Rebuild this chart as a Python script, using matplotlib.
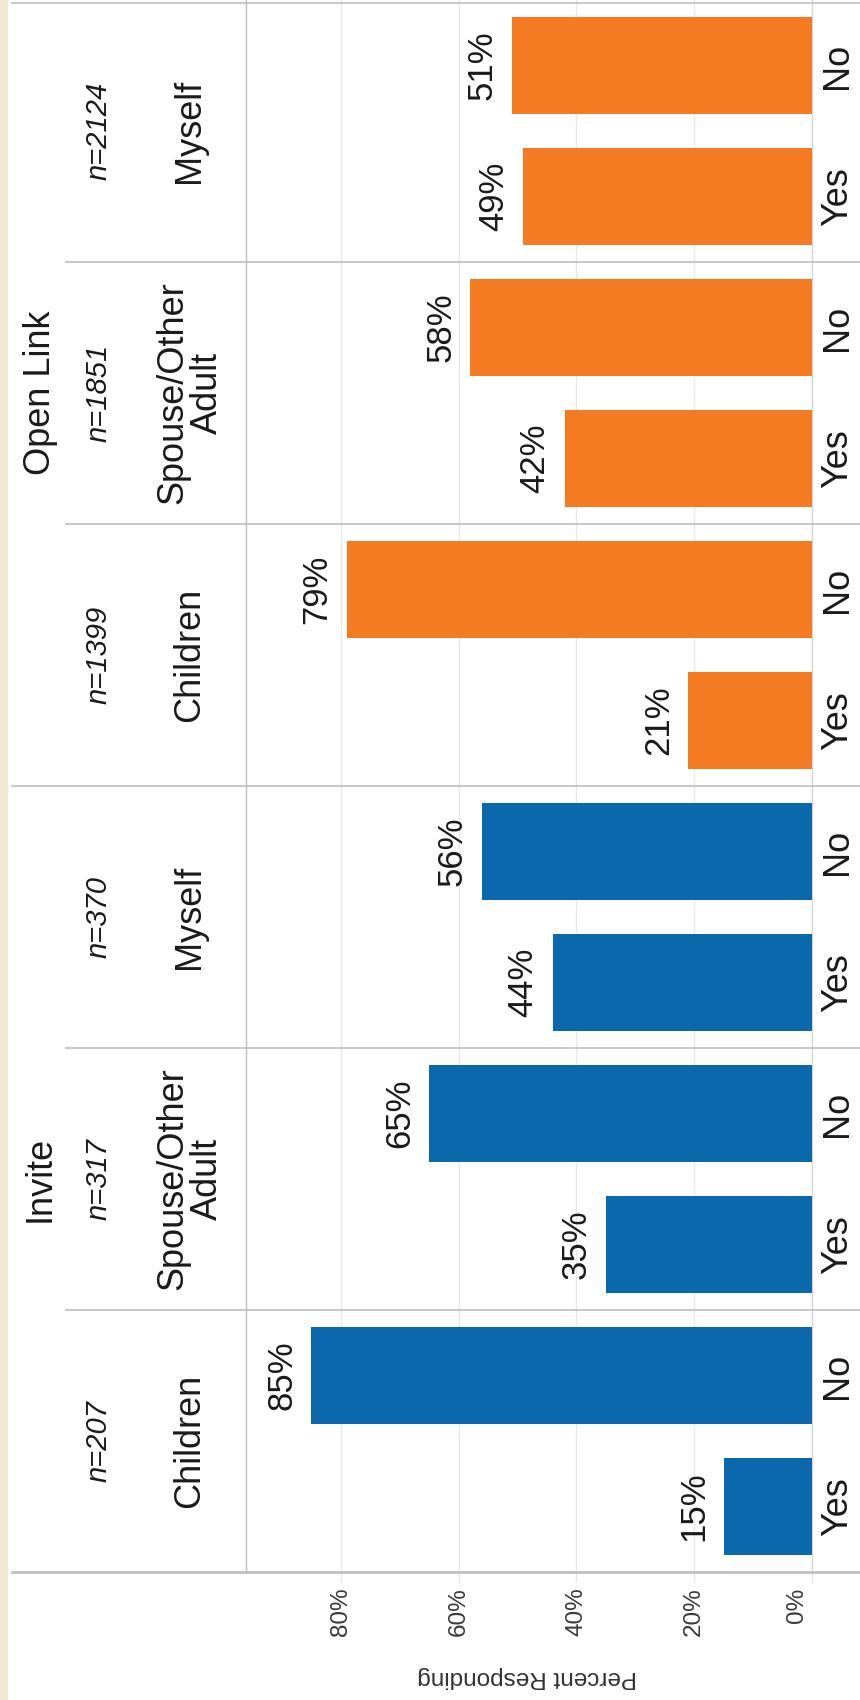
import numpy as np
import matplotlib.pyplot as plt
import matplotlib.transforms as mtransforms
from matplotlib.patches import Rectangle

plt.rcParams['font.family'] = ['Liberation Sans', 'DejaVu Sans']

groups = ['Invite', 'Open Link']
recipients = ['Children', 'Spouse/Other\nAdult', 'Myself']
answers = ['Yes', 'No']
invite_pct = [15, 85, 35, 65, 44, 56]
open_link_pct = [21, 79, 42, 58, 49, 51]
invite_n = [207, 317, 370]
open_link_n = [1399, 1851, 2124]
group_colors = ['#0b68ab', '#f47b21']
ticks = [0, 20, 40, 60, 80]

W, H = 860, 1700
fig = plt.figure(figsize=(W / 100, H / 100), dpi=100, facecolor='white')
ax = fig.add_axes([246 / W, 128 / H, 1 - 246 / W, 1 - 128 / H])

# beige page strip on the left
fig.patches.append(Rectangle((0, 0), 7 / W, 1, transform=fig.transFigure,
                             color='#f3e8d6', zorder=0))

values = invite_pct + open_link_pct
ns = invite_n + open_link_n
cols = [group_colors[0]] * len(invite_pct) + [group_colors[1]] * len(open_link_pct)
ypos = np.arange(len(values))

ax.barh(ypos, values, height=0.74, color=cols, zorder=3)
for y, v in zip(ypos, values):
    ax.annotate(f'{v}%', (v, y), xytext=(-9.5, 0), textcoords='offset points',
                ha='right', va='center', rotation=90, fontsize=25, color='#1a1a1a')
    ax.text(-4.4, y, answers[y % 2], ha='center', va='center', rotation=90,
            fontsize=26, color='#1a1a1a')

ax.set_xlim(96.1, -8.15)
ax.set_ylim(-0.5, len(values) - 0.5)
ax.set_yticks([])
ax.set_xticks(ticks)
ax.set_xticklabels([f'{t}%' for t in ticks], rotation=90, fontsize=17.5, color='#3a3a3a')
ax.tick_params(axis='x', length=7, width=1, color='#e6e6e6', pad=4)
# 0% label sits a little off its line in the original
zero_lbl = ax.get_xticklabels()[0]
zero_lbl.set_transform(zero_lbl.get_transform() +
                       mtransforms.ScaledTranslation(-15 / 100, 0, fig.dpi_scale_trans))
for t in ticks:
    ax.axvline(t, color='#d4d4d4' if t == 0 else '#e8e8e8', lw=1, zorder=1)
for s in ['top', 'right', 'bottom']:
    ax.spines[s].set_visible(False)
ax.spines['left'].set_color('#bdbdbd')
ax.spines['left'].set_linewidth(1)

# header column (left side) in figure x / data y
blend = mtransforms.blended_transform_factory(fig.transFigure, ax.transData)
for p in range(6):
    yc = 2 * p + 0.5
    ax.text(99 / W, yc, f'n={ns[p]}', transform=blend, ha='center', va='center',
            rotation=90, fontsize=21, style='italic', color='#1a1a1a')
    ax.text(190 / W, yc, recipients[p % 3], transform=blend, ha='center', va='center',
            rotation=90, fontsize=26, color='#1a1a1a', multialignment='center',
            linespacing=1.0)
for g, name in enumerate(groups):
    ax.text(40 / W, 6 * g + 2.5, name, transform=blend, ha='center', va='center',
            rotation=90, fontsize=26, color='#1a1a1a')

# pane dividers
for yb in [1.5, 3.5, 7.5, 9.5]:
    ax.plot([66 / W, 1], [yb, yb], transform=blend, color='#c8c8c8', lw=1.4,
            clip_on=False, zorder=2)
for yb in [5.5, len(values) - 0.52]:
    ax.plot([12 / W, 1], [yb, yb], transform=blend, color='#c8c8c8', lw=1.4,
            clip_on=False, zorder=2)
ax.plot([12 / W, 1], [-0.5, -0.5], transform=blend, color='#c0c0c0', lw=2,
        clip_on=False, zorder=4)

fig.text(527 / W, 23 / H, 'Percent Responding', rotation=180, ha='center',
         va='center', fontsize=17.5, color='#333333')

fig.savefig('out.png', dpi=100, facecolor='white')
